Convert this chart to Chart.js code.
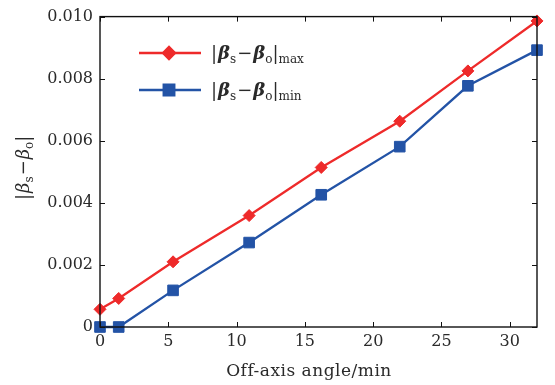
<!DOCTYPE html>
<html>
<head>
<meta charset="utf-8">
<script src="https://cdn.jsdelivr.net/npm/chart.js@4/dist/chart.umd.min.js"></script>
<style>
html,body{margin:0;padding:0;background:#fff;}
#wrap{position:relative;width:555px;height:385px;}
</style>
</head>
<body>
<div id="wrap"><canvas id="c" width="555" height="385"></canvas></div>
<script>
const angles = [0, 1.37, 5.35, 10.92, 16.2, 21.95, 26.94, 32];
const maxVals = [0.00057, 0.00092, 0.0021, 0.00359, 0.00514, 0.00663, 0.00825, 0.00986];
const minVals = [0, 0, 0.00118, 0.00272, 0.00426, 0.00581, 0.00777, 0.00892];
const xTicks = [0, 5, 10, 15, 20, 25, 30];
const yTicks = [0, 0.002, 0.004, 0.006, 0.008, 0.010];
const seriesNames = ['max', 'min'];
const xTitle = 'Off-axis angle/min';

const RED = '#ee2a2a';
const BLUE = '#2353a6';
const FONT = '"DejaVu Serif", "Liberation Serif", serif';
const TXT = '#2a2a2a';

function setFont(ctx, p) { ctx.font = (p[1] || '') + ' ' + p[2] + 'px ' + FONT; }
function richText(ctx, x, y, parts) {
  let cx = x;
  for (const p of parts) {
    setFont(ctx, p);
    ctx.fillText(p[0], cx, y + (p[3] || 0));
    cx += ctx.measureText(p[0]).width + (p[4] || 0);
  }
  return cx - x;
}
function betaParts(sub, bold) {
  const st = bold ? 'italic bold' : 'italic';
  return [
    ['|', '', 18, 0, 1],
    ['β', st, 18, 0, 0],
    ['s', '', 12, 4, 1],
    ['−', '', 18, 0, 1],
    ['β', st, 18, 0, 0],
    ['o', '', 12, 4, 0],
    ['|', '', 18, 0, 0]
  ].concat(sub ? [[sub, '', 12, 4, 0]] : []);
}

const decor = {
  id: 'decor',
  afterDraw(chart) {
    const ctx = chart.ctx;
    const a = chart.chartArea;
    const xs = chart.scales.x, ys = chart.scales.y;
    ctx.save();
    ctx.strokeStyle = '#111';
    ctx.lineWidth = 1.4;
    ctx.strokeRect(a.left, a.top, a.right - a.left, a.bottom - a.top);
    ctx.lineWidth = 1;
    const L = 5;
    ctx.beginPath();
    for (const v of xTicks) {
      const px = Math.round(xs.getPixelForValue(v)) + 0.5;
      ctx.moveTo(px, a.bottom); ctx.lineTo(px, a.bottom - L);
      ctx.moveTo(px, a.top); ctx.lineTo(px, a.top + L);
    }
    for (const v of yTicks) {
      const py = Math.round(ys.getPixelForValue(v)) + 0.5;
      ctx.moveTo(a.left, py); ctx.lineTo(a.left + L, py);
      ctx.moveTo(a.right, py); ctx.lineTo(a.right - L, py);
    }
    ctx.stroke();

    ctx.fillStyle = TXT;
    ctx.textBaseline = 'alphabetic';
    ctx.textAlign = 'left';

    // x-axis title
    ctx.font = '17px ' + FONT;
    if ('letterSpacing' in ctx) ctx.letterSpacing = '0.5px';
    const tw = ctx.measureText(xTitle).width;
    ctx.fillText(xTitle, 309 - tw / 2, 376);
    if ('letterSpacing' in ctx) ctx.letterSpacing = '0px';

    // y-axis title
    ctx.save();
    ctx.translate(29, (a.top + a.bottom) / 2 - 4);
    ctx.rotate(-Math.PI / 2);
    const parts = betaParts(null, false);
    let w = 0;
    for (const p of parts) { setFont(ctx, p); w += ctx.measureText(p[0]).width + (p[4] || 0); }
    richText(ctx, -w / 2, 0, parts);
    ctx.restore();

    // legend
    const items = [
      { color: RED, style: 'rectRot', r: 6, y: 53, sub: seriesNames[0] },
      { color: BLUE, style: 'rect', r: 7.5, y: 90, sub: seriesNames[1] }
    ];
    for (const it of items) {
      ctx.strokeStyle = it.color;
      ctx.lineWidth = 2.3;
      ctx.beginPath(); ctx.moveTo(139, it.y); ctx.lineTo(201, it.y); ctx.stroke();
      ctx.fillStyle = it.color;
      Chart.helpers.drawPoint(ctx, { pointStyle: it.style, radius: it.r, borderWidth: 1 }, 169, it.y);
      ctx.fill();
      ctx.fillStyle = TXT;
      richText(ctx, 211, it.y + 6, betaParts(it.sub, true));
    }
    ctx.restore();
  }
};

new Chart(document.getElementById('c'), {
  type: 'line',
  data: {
    datasets: [
      {
        label: '|βs−βo|max',
        data: angles.map((x, i) => ({ x, y: maxVals[i] })),
        borderColor: RED, backgroundColor: RED,
        borderWidth: 2.3, pointStyle: 'rectRot', pointRadius: 6, pointBorderWidth: 1,
        tension: 0
      },
      {
        label: '|βs−βo|min',
        data: angles.map((x, i) => ({ x, y: minVals[i] })),
        borderColor: BLUE, backgroundColor: BLUE,
        borderWidth: 2.3, pointStyle: 'rect', pointRadius: 7.5, pointBorderWidth: 1,
        tension: 0
      }
    ]
  },
  options: {
    responsive: false,
    animation: false,
    clip: false,
    layout: { padding: { top: 14, right: 18, left: 0, bottom: 0 } },
    plugins: { legend: { display: false }, tooltip: { enabled: false } },
    scales: {
      x: {
        type: 'linear', min: 0, max: 32,
        afterBuildTicks(s) { s.ticks = xTicks.map(v => ({ value: v })); },
        afterFit(s) { s.height = 58; },
        grid: { display: false, drawTicks: false },
        border: { display: false },
        ticks: { color: TXT, font: { family: FONT, size: 16 }, padding: 5, maxRotation: 0 },
        title: { display: false, text: xTitle }
      },
      y: {
        type: 'linear', min: 0, max: 0.010,
        afterBuildTicks(s) { s.ticks = yTicks.map(v => ({ value: v })); },
        afterFit(s) { s.width = 100; },
        grid: { display: false, drawTicks: false },
        border: { display: false },
        ticks: {
          color: TXT, font: { family: FONT, size: 16 }, padding: 7,
          callback: v => (v === 0 ? '0' : v.toFixed(3))
        }
      }
    }
  },
  plugins: [decor]
});
</script>
</body>
</html>
